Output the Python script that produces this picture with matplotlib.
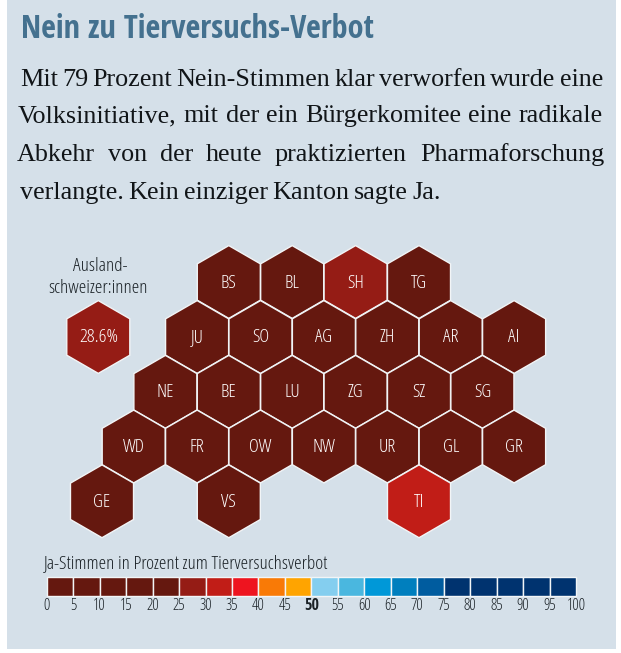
# -*- coding: utf-8 -*-
import matplotlib
matplotlib.use('Agg')
import matplotlib.pyplot as plt
from matplotlib.patches import RegularPolygon, Rectangle

LIGHT = dict(family=['Open Sans', 'DejaVu Sans'], stretch='condensed', weight=300)
BOLD = dict(family=['Open Sans Condensed', 'DejaVu Sans'], weight=700)
SERIF = ['Liberation Serif', 'DejaVu Serif']

TITLE = 'Nein zu Tierversuchs-Verbot'
INTRO = ['Mit 79 Prozent Nein-Stimmen klar verworfen wurde eine',
         'Volksinitiative, mit der ein Bürgerkomitee eine radikale',
         'Abkehr von der heute praktizierten Pharmaforschung',
         'verlangte. Kein einziger Kanton sagte Ja.']
# left and right end of each text line in the reference (px)
INTRO_LEFT = [20, 18, 17, 20]
INTRO_RIGHT = [603, 603, 604, 441]
INTRO_Y = [80, 116, 155, 193]

# grid layout: rows of cantons, each entry = (code, column in half-cell units)
ROW1 = ['BS', 'BL', 'SH', 'TG']
COL1 = [4, 6, 8, 10]
ROW2 = ['JU', 'SO', 'AG', 'ZH', 'AR', 'AI']
COL2 = [3, 5, 7, 9, 11, 13]
ROW3 = ['NE', 'BE', 'LU', 'ZG', 'SZ', 'SG']
COL3 = [2, 4, 6, 8, 10, 12]
ROW4 = ['WD', 'FR', 'OW', 'NW', 'UR', 'GL', 'GR']
COL4 = [1, 3, 5, 7, 9, 11, 13]
ROW5 = ['GE', 'VS', 'TI']
COL5 = [0, 4, 10]

# yes share per canton, estimated from the colour class
YES = {'BS': 22, 'BL': 21, 'SH': 27, 'TG': 22,
       'JU': 22, 'SO': 21, 'AG': 21, 'ZH': 20, 'AR': 23, 'AI': 20,
       'NE': 20, 'BE': 21, 'LU': 19, 'ZG': 17, 'SZ': 20, 'SG': 21,
       'WD': 19, 'FR': 18, 'OW': 20, 'NW': 19, 'UR': 20, 'GL': 22, 'GR': 21,
       'GE': 19, 'VS': 20, 'TI': 32}
ABROAD = 28.6

BIN_EDGES = list(range(0, 105, 5))
BIN_COLORS = ['#65180F', '#65180F', '#65180F', '#65180F', '#65180F',
              '#951C15', '#C11D17', '#EE141F', '#F97A06', '#FFA400',
              '#84CEEF', '#4AB7DF', '#0098D8', '#007FBE', '#005C9F',
              '#00336F', '#00336F', '#00336F', '#00336F', '#00336F']


def bin_color(v):
    for i, c in enumerate(BIN_COLORS):
        if v < BIN_EDGES[i + 1]:
            return c
    return BIN_COLORS[-1]


# pixel geometry of the reference
X0, DX = 102.0, 31.7
ROW_Y = [282.0, 337.0, 391.8, 446.5, 501.3]
R = 36.4


def hexagon(ax, cx, cy, color):
    ax.add_patch(RegularPolygon((cx, cy), 6, radius=R, facecolor=color,
                                edgecolor='#F2F5F7', linewidth=1.0, zorder=2))


def justified_line(ax, renderer, line, left, right, y):
    """Place the words one by one so the line ends where the reference ends."""
    words = line.split(' ')
    items = [ax.text(0, y, w, family=SERIF, fontsize=18.8, color='#111518',
                     va='center', ha='left') for w in words]
    widths = [t.get_window_extent(renderer).width for t in items]
    gap = (right - left - sum(widths)) / (len(words) - 1)
    x = left
    for t, w in zip(items, widths):
        t.set_x(x)
        x += w + gap


fig = plt.figure(figsize=(6.21, 6.53), dpi=100, facecolor='white')
ax = fig.add_axes([0, 0, 1, 1])
ax.set_xlim(0, 621)
ax.set_ylim(653, 0)
ax.axis('off')
renderer = fig.canvas.get_renderer()

ax.add_patch(Rectangle((7, 0), 609, 649, facecolor='#D5E0E9', edgecolor='none', zorder=0))

ax.text(21, 29, TITLE, fontsize=23.2, color='#44718F', va='center', ha='left', **BOLD)

for i, line in enumerate(INTRO):
    justified_line(ax, renderer, line, INTRO_LEFT[i], INTRO_RIGHT[i], INTRO_Y[i])

rows = [(ROW1, COL1), (ROW2, COL2), (ROW3, COL3), (ROW4, COL4), (ROW5, COL5)]
for (names, cols), y in zip(rows, ROW_Y):
    for name, col in zip(names, cols):
        x = X0 + col * DX
        hexagon(ax, x, y, bin_color(YES[name]))
        ax.text(x, y + 0.5, name, fontsize=13.5, color='white',
                ha='center', va='center', zorder=3, **LIGHT)

# Auslandschweizer hexagon
hexagon(ax, 98.3, 337.0, bin_color(ABROAD))
ax.text(98.3, 337.5, f'{ABROAD}%', fontsize=14, color='white',
        ha='center', va='center', zorder=3, **LIGHT)
ax.text(100, 266, 'Ausland-', fontsize=13.8, color='#1A2126', ha='center', va='center', **LIGHT)
ax.text(98, 288, 'schweizer:innen', fontsize=13.8, color='#1A2126', ha='center', va='center', **LIGHT)

# legend
LX, LW = 46.7, 26.47
ax.text(44, 563, 'Ja-Stimmen in Prozent zum Tierversuchsverbot', fontsize=13.8,
        color='#1A2126', ha='left', va='center', **LIGHT)
for i, c in enumerate(BIN_COLORS):
    ax.add_patch(Rectangle((LX + i * LW, 577), LW, 19, facecolor=c,
                           edgecolor='#F2F5F7', linewidth=1.0, zorder=2))
for i, edge in enumerate(BIN_EDGES):
    style = BOLD if edge == 50 else LIGHT
    ax.text(LX + i * LW, 606, str(edge), fontsize=11.5, color='#1A2126',
            ha='center', va='center', **style)

fig.savefig('out.png', dpi=100)
